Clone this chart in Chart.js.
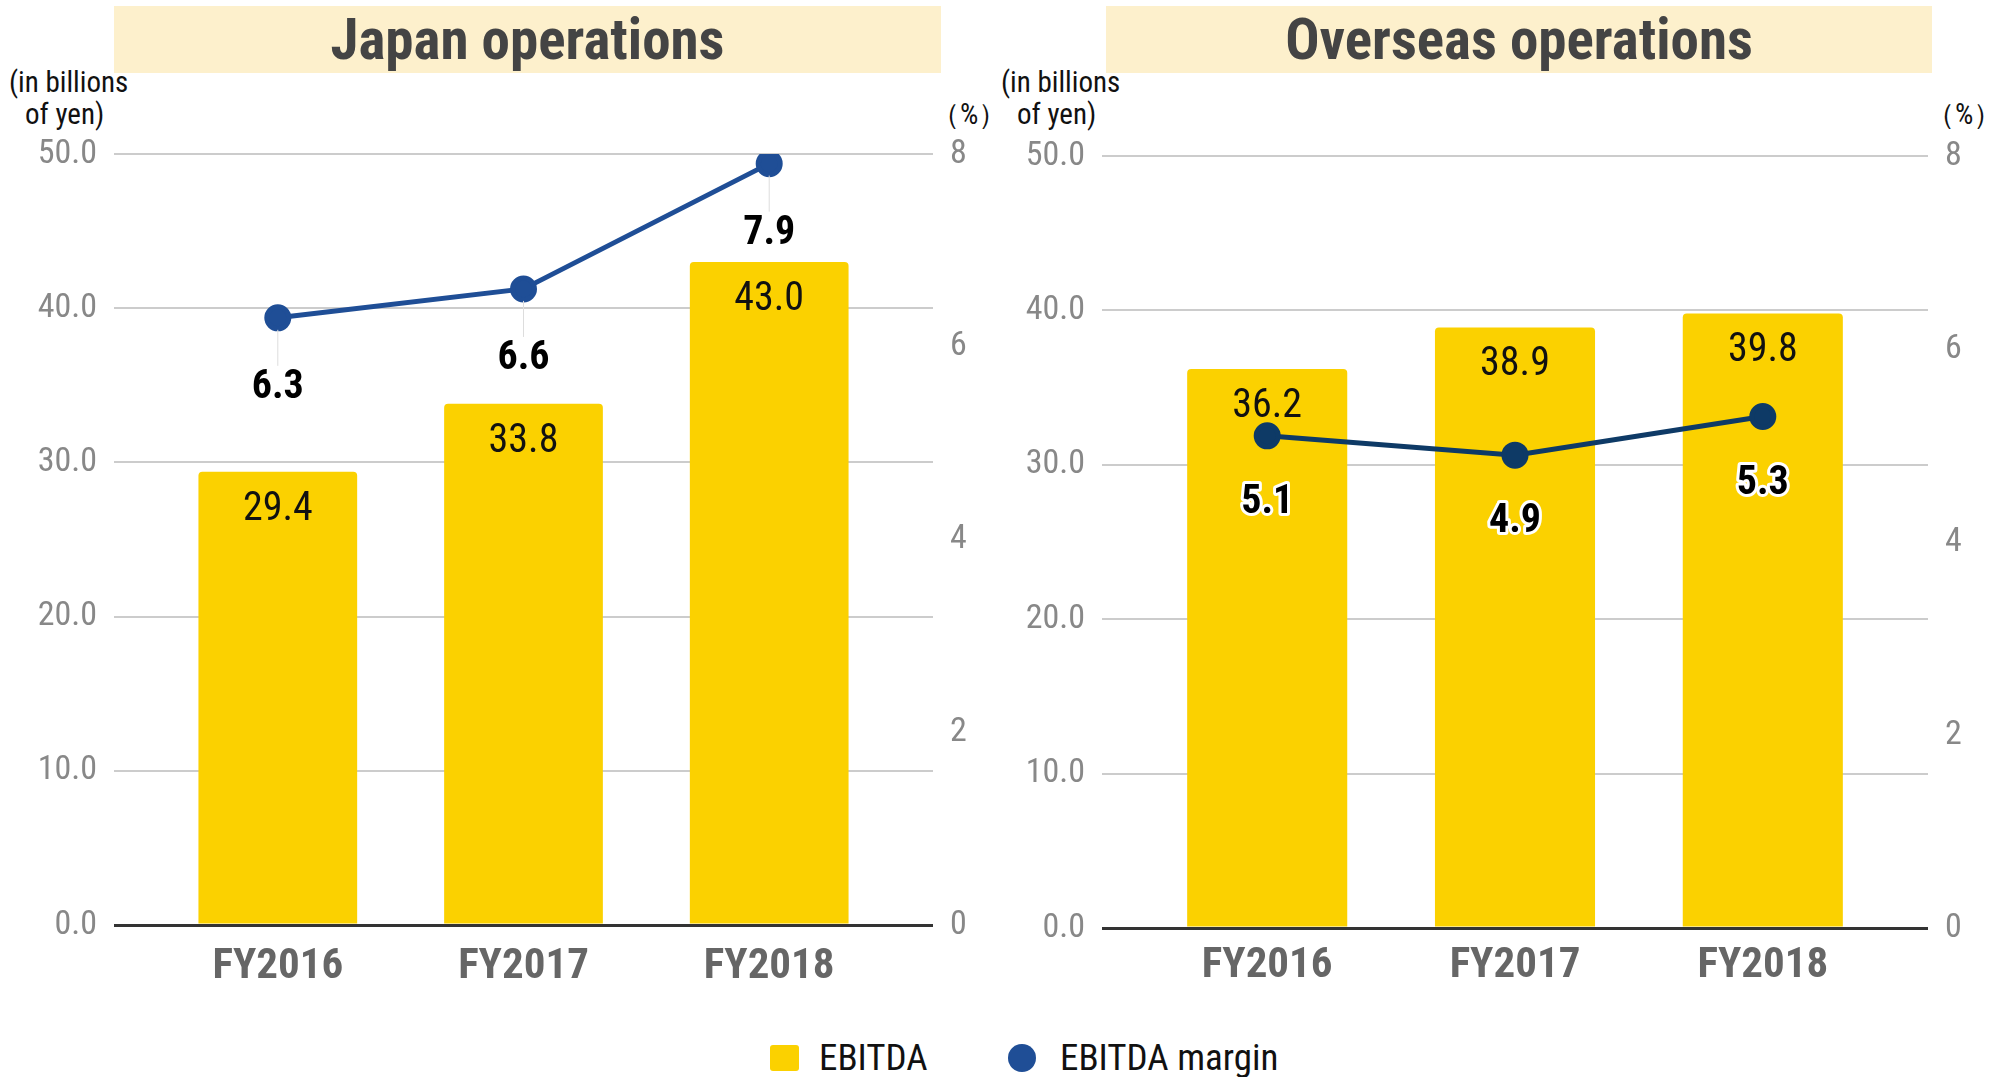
<!DOCTYPE html>
<html>
<head>
<meta charset="utf-8">
<script src="https://cdn.jsdelivr.net/npm/chart.js@4.4.0/dist/chart.umd.min.js"></script>
<style>
  body {
    margin: 0;
    background: #fff;
    width: 2007px;
    height: 1077px;
    position: relative;
    overflow: hidden;
    font-family: "Liberation Sans Narrow", "Roboto Condensed", "Liberation Sans", Arial, sans-serif;
  }
  canvas { position: absolute; top: 0; }
  .title {
    position: absolute;
    top: 6px;
    height: 67px;
    line-height: 68px;
    background: #fdf0cc;
    color: #444;
    font-weight: bold;
    font-size: 57px;
    text-align: center;
  }
  .unit { position: absolute; font-size: 29px; color: #111; line-height: 32px; white-space: nowrap; }
  .legend { position: absolute; top: 1040px; font-size: 37px; color: #111; line-height: 36px; white-space: nowrap; }
  .swatch { position: absolute; }
</style>
</head>
<body>
<div class="title" style="left:114px; width:827px;">Japan operations</div>
<div class="title" style="left:1106px; width:826px;">Overseas operations</div>

<div class="unit" style="left:9px; top:66px;">(in billions</div>
<div class="unit" style="left:25px; top:98px;">of yen)</div>
<div class="unit" style="left:931px; top:98px;">（%）</div>
<div class="unit" style="left:1001px; top:66px;">(in billions</div>
<div class="unit" style="left:1017px; top:98px;">of yen)</div>
<div class="unit" style="left:1926px; top:98px;">（%）</div>

<canvas id="japanChart" width="1003" height="1000" style="left:0px; width:1003px; height:1000px;"></canvas>
<canvas id="overseasChart" width="1004" height="1000" style="left:1003px; width:1004px; height:1000px;"></canvas>

<div class="swatch" style="left:770px; top:1045px; width:29px; height:26px; background:#fbd100; border-radius:3px;"></div>
<div class="legend" style="left:819px;">EBITDA</div>
<div class="swatch" style="left:1008px; top:1044px; width:28px; height:28px; background:#1f4e96; border-radius:50%;"></div>
<div class="legend" style="left:1060px;">EBITDA margin</div>

<script>
const FONT = '"Liberation Sans Narrow", "Roboto Condensed", "Liberation Sans", Arial, sans-serif';

const categories = ["FY2016", "FY2017", "FY2018"];
const japanEbitda = [29.4, 33.8, 43.0];
const japanMargin = [6.3, 6.6, 7.9];
const overseasEbitda = [36.2, 38.9, 39.8];
const overseasMargin = [5.1, 4.9, 5.3];
const leftTicks = [0, 10, 20, 30, 40, 50];
const rightTicks = [0, 2, 4, 6, 8];

// labels inside the bars and under the margin points
const valueLabels = {
    id: "valueLabels",
    afterDatasetsDraw(chart, args, opts) {
        const ctx = chart.ctx;
        ctx.save();
        ctx.textAlign = "center";
        ctx.textBaseline = "middle";

        const barSet = chart.data.datasets[1];
        chart.getDatasetMeta(1).data.forEach((bar, i) => {
            ctx.font = "40px " + FONT;
            ctx.fillStyle = "#111";
            ctx.fillText(barSet.data[i].y.toFixed(1), bar.x, bar.y + 38);
        });

        const lineSet = chart.data.datasets[0];
        chart.getDatasetMeta(0).data.forEach((pt, i) => {
            if (opts.leader) {
                ctx.strokeStyle = "#ddd";
                ctx.lineWidth = 1;
                ctx.beginPath();
                ctx.moveTo(pt.x, pt.y + 12);
                ctx.lineTo(pt.x, pt.y + 48);
                ctx.stroke();
            }
            const text = lineSet.data[i].y.toFixed(1);
            ctx.font = "bold 40px " + FONT;
            ctx.lineJoin = "round";
            ctx.lineWidth = 6;
            ctx.strokeStyle = "#fff";
            ctx.strokeText(text, pt.x, pt.y + opts.gap);
            ctx.fillStyle = "#000";
            ctx.fillText(text, pt.x, pt.y + opts.gap);
        });
        ctx.restore();
    }
};

function makeChart(id, bars, margins, lineColor, geom) {
    new Chart(document.getElementById(id), {
        type: "bar",
        data: {
            datasets: [{
                type: "line",
                label: "EBITDA margin",
                data: margins.map((v, i) => ({ x: i, y: v })),
                yAxisID: "y1",
                borderColor: lineColor,
                backgroundColor: lineColor,
                borderWidth: 5,
                pointRadius: 11,
                pointHoverRadius: 11,
                tension: 0,
                order: 0
            }, {
                type: "bar",
                label: "EBITDA",
                data: bars.map((v, i) => ({ x: i, y: v })),
                yAxisID: "y",
                backgroundColor: "#fbd100",
                borderRadius: { topLeft: 4, topRight: 4, bottomLeft: 0, bottomRight: 0 },
                borderSkipped: "bottom",
                categoryPercentage: 1,
                barPercentage: 0.646,
                order: 1
            }]
        },
        options: {
            responsive: false,
            animation: false,
            layout: { padding: { top: geom.top, left: 0, right: 0, bottom: 0 } },
            plugins: {
                legend: { display: false },
                tooltip: { enabled: false },
                valueLabels: { leader: geom.leader, gap: geom.gap }
            },
            scales: {
                x: {
                    type: "linear",
                    offset: false,
                    bounds: "data",
                    min: -2 / 3,
                    max: 8 / 3,
                    grid: { display: false, drawTicks: false },
                    border: { display: false },
                    afterBuildTicks: s => { s.ticks = categories.map((c, i) => ({ value: i })); },
                    afterFit: s => { s.height = geom.bottom; },
                    ticks: {
                        autoSkip: false,
                        maxRotation: 0,
                        padding: geom.xPad,
                        color: "#666",
                        font: { family: FONT, size: 43, weight: "bold" },
                        callback: v => categories[v]
                    }
                },
                y: {
                    position: "left",
                    min: 0,
                    max: 50,
                    afterBuildTicks: s => { s.ticks = leftTicks.map(v => ({ value: v })); },
                    afterFit: s => { s.width = geom.left; },
                    grid: {
                        drawTicks: false,
                        color: c => c.tick.value === 0 ? "#333" : "#ccc",
                        lineWidth: c => c.tick.value === 0 ? 3 : 2
                    },
                    border: { display: false },
                    ticks: {
                        padding: 17,
                        color: "#888",
                        font: { family: FONT, size: 34 },
                        callback: v => v.toFixed(1)
                    }
                },
                y1: {
                    position: "right",
                    min: 0,
                    max: 8,
                    afterBuildTicks: s => { s.ticks = rightTicks.map(v => ({ value: v })); },
                    afterFit: s => { s.width = geom.right; },
                    grid: { display: false, drawTicks: false },
                    border: { display: false },
                    ticks: {
                        padding: 17,
                        color: "#888",
                        font: { family: FONT, size: 34 }
                    }
                }
            }
        },
        plugins: [valueLabels]
    });
}

makeChart("japanChart", japanEbitda, japanMargin, "#1f4e96",
    { top: 154, bottom: 75, left: 114, right: 70, xPad: 16, gap: 70, leader: true });
makeChart("overseasChart", overseasEbitda, overseasMargin, "#0e3a66",
    { top: 156, bottom: 72, left: 99, right: 79, xPad: 12, gap: 67, leader: false });
</script>
</body>
</html>
